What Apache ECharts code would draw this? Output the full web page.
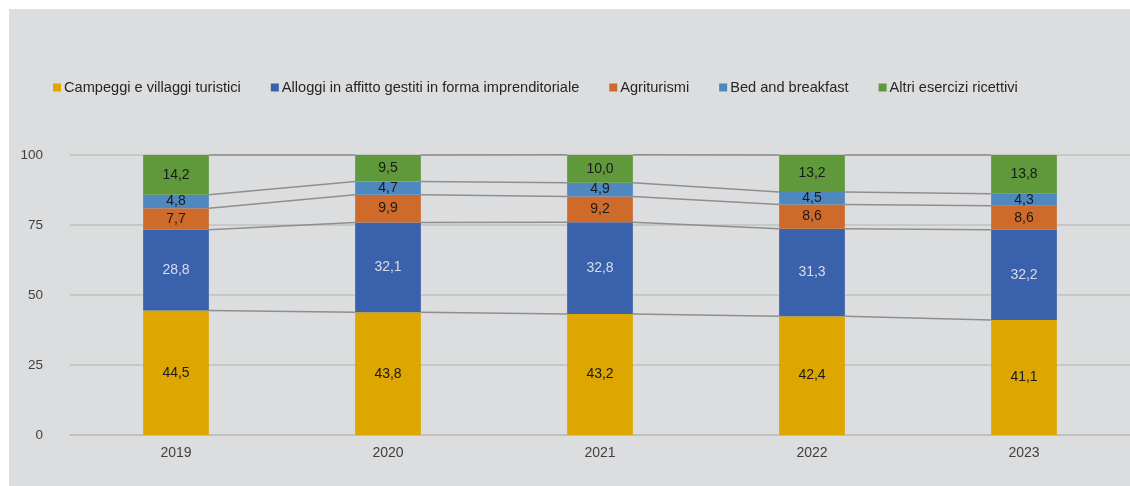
<!DOCTYPE html>
<html><head><meta charset="utf-8">
<script src="https://cdn.jsdelivr.net/npm/echarts@6/dist/echarts.min.js"></script>
<style>html,body{margin:0;padding:0;background:#fff;}#wrap{position:absolute;left:9px;top:9px;width:1121px;height:477px;background:#DCDDDF;}#c{position:absolute;left:0;top:0;width:1130px;height:486px;}</style>
</head><body><div id="wrap"></div><div id="c"></div>
<script>
const years = ['2019','2020','2021','2022','2023'];
const campeggi = [44.5, 43.8, 43.2, 42.4, 41.1];
const alloggi = [28.8, 32.1, 32.8, 31.3, 32.2];
const agriturismi = [7.7, 9.9, 9.2, 8.6, 8.6];
const bnb = [4.8, 4.7, 4.9, 4.5, 4.3];
const altri = [14.2, 9.5, 10.0, 13.2, 13.8];
const yTicks = [0, 25, 50, 75, 100];

const names = ['Campeggi e villaggi turistici','Alloggi in affitto gestiti in forma imprenditoriale','Agriturismi','Bed and breakfast','Altri esercizi ricettivi'];
const colors = ['#DDA600','#3A62AC','#CE6B2A','#4F88BF','#5F993C'];
const stacks = [campeggi, alloggi, agriturismi, bnb, altri];
const labelColors = ['#1a1a1a','#D8DCEA','#1a1a1a','#1a1a1a','#1a1a1a'];
const barFrac = 0.31;

function cum(level, i){ let s=0; for(let k=0;k<level;k++) s+=stacks[k][i]; return s; }

const barSeries = stacks.map((arr, k) => ({
  name: names[k], type: 'bar', stack: 'tot', data: arr, barWidth: (barFrac*100)+'%',
  itemStyle: {color: colors[k]}, z: 3,
  label: {show: true, position: 'inside', color: labelColors[k], fontSize: 14,
    fontFamily: 'Liberation Sans, Arial, sans-serif',
    formatter: p => p.value.toFixed(1).replace('.', ',')}
}));

const lineData = [];
for (let lvl=1; lvl<=5; lvl++) for (let i=0;i<years.length-1;i++) lineData.push([i, lvl]);

const lineSeries = {
  type: 'custom', z: 2, silent: true,
  data: lineData,
  renderItem: (params, api) => {
    const i = api.value(0), lvl = api.value(1);
    const band = api.size([1,0])[0];
    const half = band*barFrac/2;
    const p1 = api.coord([i, cum(lvl, i)]);
    const p2 = api.coord([i+1, cum(lvl, i+1)]);
    return {type:'line', shape:{x1:p1[0]+half, y1:p1[1], x2:p2[0]-half, y2:p2[1]},
      style:{stroke:'#8E8E8E', lineWidth:1.5}};
  }
};

const chart = echarts.init(document.getElementById('c'), null, {renderer:'canvas'});
chart.setOption({
  backgroundColor: 'transparent',
  animation: false,
  textStyle: {fontFamily: 'Liberation Sans, Arial, sans-serif'},
  legend: {
    data: names, top: 75, left: 48, itemWidth: 8, itemHeight: 8, itemGap: 30,
    icon: 'rect',
    textStyle: {fontSize: 14.6, color: '#262626', padding: [0,0,0,-2]}
  },
  grid: {left: 70, right: 0, top: 155, bottom: 51},
  xAxis: {type: 'category', data: years,
    axisLine: {show: true, lineStyle: {color: '#BFBFBF', width: 1.5}},
    axisTick: {show: false},
    axisLabel: {color: '#404040', fontSize: 14, margin: 11}},
  yAxis: {type: 'value', min: 0, max: 100, interval: 25,
    axisLine: {show: false}, axisTick: {show: false},
    axisLabel: {color: '#404040', fontSize: 13.5, margin: 27,
      formatter: v => yTicks.includes(v) ? String(v) : ''},
    splitLine: {lineStyle: {color: '#BFBFBF', width: 1.5}}},
  series: [lineSeries, ...barSeries]
});
</script></body></html>
